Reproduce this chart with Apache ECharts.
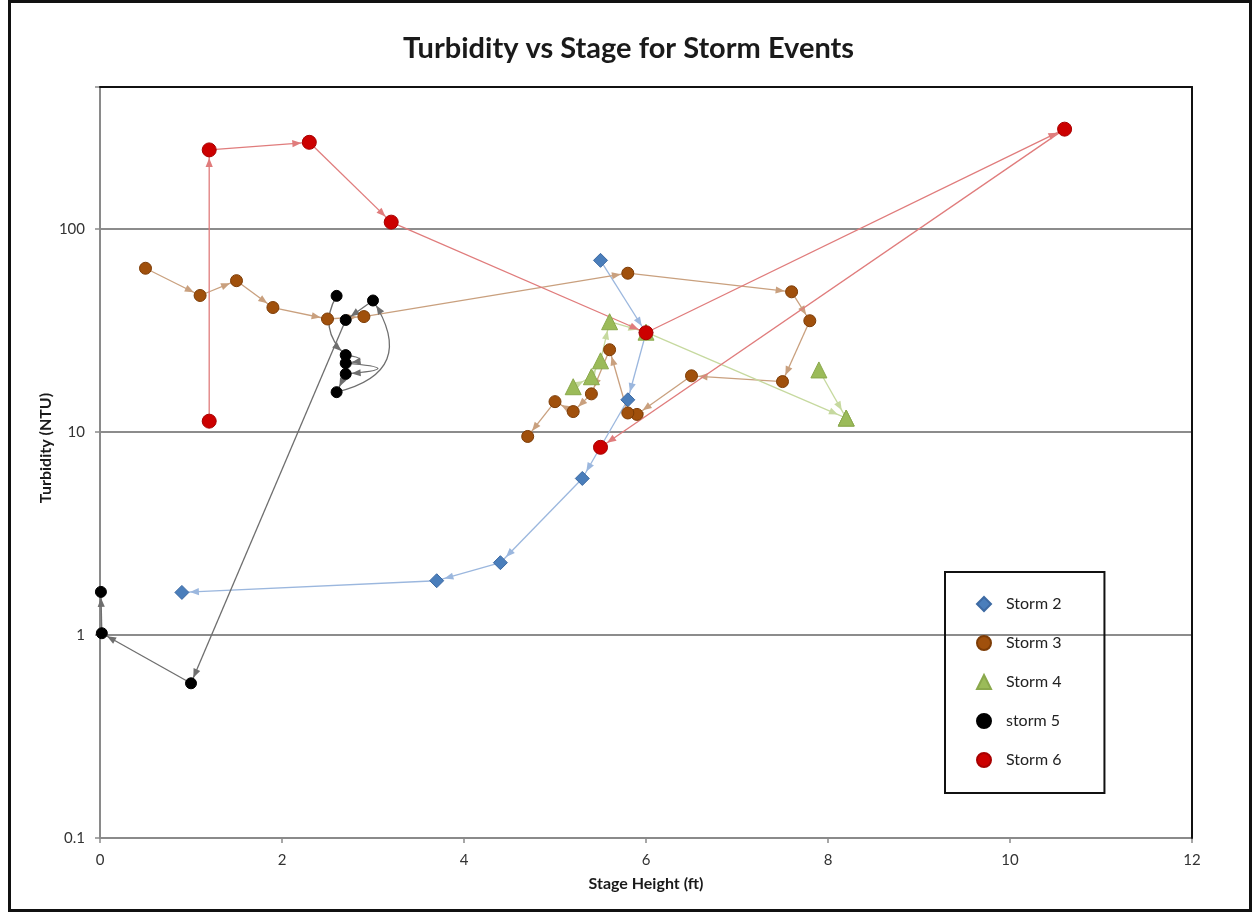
<!DOCTYPE html>
<html>
<head>
<meta charset="utf-8">
<title>Turbidity vs Stage for Storm Events</title>
<script src="https://cdn.jsdelivr.net/npm/echarts@6/dist/echarts.min.js"></script>
<style>
	html, body { margin: 0; padding: 0; background: #fff; }
	#chart { width: 1257px; height: 913px; }
</style>
</head>
<body>
<div id="chart"></div>
<script>
// stage height (ft) / turbidity (NTU), each storm in the order it was sampled
var storm2X = [5.5, 6.0, 5.8, 5.3, 4.4, 3.7, 0.9];
var storm2Y = [70, 30.8, 14.4, 5.9, 2.27, 1.85, 1.62];

var storm3X = [0.5, 1.1, 1.5, 1.9, 2.5, 2.9, 5.8, 7.6, 7.8, 7.5, 6.5, 5.9, 5.8, 5.6, 5.4, 5.2, 5.0, 4.7];
var storm3Y = [64, 47, 55.6, 41, 36, 37, 60.5, 49, 35.3, 17.7, 18.9, 12.2, 12.4, 25.4, 15.4, 12.6, 14.1, 9.5];

var storm4X = [5.2, 5.4, 5.5, 5.6, 6.0, 8.2];
var storm4Y = [16.7, 18.7, 22.4, 34.9, 31, 11.7];
var storm4bX = [7.9, 8.2];
var storm4bY = [20.2, 11.7];

var storm5X = [2.6, 2.7, 2.7, 2.7, 2.6, 3.0, 2.7, 1.0, 0.02, 0.01];
var storm5Y = [46.8, 23.9, 21.8, 19.3, 15.7, 44.4, 35.6, 0.578, 1.02, 1.63];

var storm6X = [1.2, 1.2, 2.3, 3.2, 6.0, 10.6, 5.5];
var storm6Y = [11.3, 245, 267, 108, 30.8, 310, 8.4];

var stormNames = ['Storm 2', 'Storm 3', 'Storm 4', 'storm 5', 'Storm 6'];
var yTickLabels = [0.1, 1, 10, 100];

function toPoints(xs, ys) {
	var pts = [];
	for (var i = 0; i < xs.length; i++) pts.push([xs[i], ys[i]]);
	return pts;
}

// consecutive samples -> [x1, y1, x2, y2]
function toSegments(xs, ys) {
	var segs = [];
	for (var i = 0; i < xs.length - 1; i++) segs.push([xs[i], ys[i], xs[i + 1], ys[i + 1]]);
	return segs;
}

// storm 5 loops around itself near 2.7 ft (same sense as echarts curveness)
var storm5Bends = [-0.4, 3.5, 6, 0, -0.7, 0, 0, 0, 0];

function markerSeries(name, pts, symbol, size, color, border) {
	return {
		name: name,
		type: 'scatter',
		data: pts,
		symbol: symbol,
		symbolSize: size,
		z: 3,
		itemStyle: { color: color, borderColor: border, borderWidth: 1, opacity: 1 },
		emphasis: { disabled: true }
	};
}

// a line from sample to sample with an arrow head stopping at the next marker
function pathSeries(name, segs, bends, lineColor, back) {
	return {
		name: name + ' path',
		type: 'custom',
		coordinateSystem: 'cartesian2d',
		silent: true,
		z: 1,
		data: segs,
		encode: { x: [0, 2], y: [1, 3] },
		renderItem: function (params, api) {
			var p1 = api.coord([api.value(0), api.value(1)]);
			var p2 = api.coord([api.value(2), api.value(3)]);
			var c = bends ? (bends[params.dataIndex] || 0) : 0;
			var cp = null, tx, ty;
			if (c) {
				cp = [(p1[0] + p2[0]) / 2 - (p1[1] - p2[1]) * c, (p1[1] + p2[1]) / 2 - (p2[0] - p1[0]) * c];
				tx = p2[0] - cp[0];
				ty = p2[1] - cp[1];
			} else {
				tx = p2[0] - p1[0];
				ty = p2[1] - p1[1];
			}
			var len = Math.sqrt(tx * tx + ty * ty) || 1;
			var ux = tx / len, uy = ty / len;
			var tip = [p2[0] - ux * back, p2[1] - uy * back];
			var bx = tip[0] - ux * 9, by = tip[1] - uy * 9;
			var hw = 3.6;
			var head = {
				type: 'polygon',
				shape: { points: [tip, [bx - uy * hw, by + ux * hw], [bx + uy * hw, by - ux * hw]] },
				style: { fill: lineColor }
			};
			var line;
			if (c) {
				line = {
					type: 'bezierCurve',
					shape: { x1: p1[0], y1: p1[1], x2: p2[0], y2: p2[1], cpx1: cp[0], cpy1: cp[1] },
					style: { stroke: lineColor, lineWidth: 1.3, fill: null }
				};
			} else {
				line = {
					type: 'line',
					shape: { x1: p1[0], y1: p1[1], x2: p2[0], y2: p2[1] },
					style: { stroke: lineColor, lineWidth: 1.3 }
				};
			}
			return { type: 'group', children: [line, head] };
		}
	};
}

var chart = echarts.init(document.getElementById('chart'));

var option = {
	backgroundColor: '#fff',
	animation: false,
	title: {
		text: 'Turbidity vs Stage for Storm Events',
		left: 'center',
		top: 29,
		textStyle: { fontFamily: 'Lato', fontSize: 29, fontWeight: 'bold', color: '#1a1a1a' }
	},
	legend: {
		orient: 'vertical',
		left: 945,
		top: 572,
		padding: [24, 43, 25, 31],
		itemGap: 23,
		itemWidth: 14,
		itemHeight: 14,
		borderColor: '#111',
		borderWidth: 2,
		selectedMode: false,
		data: stormNames,
		textStyle: { fontFamily: 'Lato', fontSize: 16, lineHeight: 16, color: '#222', padding: [0, 0, 0, 10] }
	},
	grid: { left: 100, right: 65, top: 87, bottom: 75, containLabel: false, outerBoundsMode: 'none' },
	xAxis: [{
		type: 'value',
		min: 0,
		max: 12,
		interval: 2,
		name: 'Stage Height (ft)',
		nameLocation: 'middle',
		nameGap: 38,
		nameTextStyle: { fontFamily: 'Lato', fontSize: 16, fontWeight: 'bold', color: '#1a1a1a' },
		axisLine: { onZero: false, lineStyle: { color: '#8a8a8a', width: 2 } },
		axisTick: { show: true, inside: false, length: 5, lineStyle: { color: '#8a8a8a', width: 1.5 } },
		axisLabel: { margin: 15, fontFamily: 'Lato', fontSize: 15, color: '#333' },
		splitLine: { show: false }
	}, {
		type: 'value',
		position: 'top',
		min: 0,
		max: 12,
		z: 5,
		axisLine: { show: true, onZero: false, lineStyle: { color: '#111', width: 2 } },
		axisTick: { show: false },
		axisLabel: { show: false },
		splitLine: { show: false }
	}],
	yAxis: [{
		type: 'log',
		logBase: 10,
		min: 0.1,
		max: 500,
		axisLine: { show: true, onZero: false, lineStyle: { color: '#8a8a8a', width: 2 } },
		axisTick: { show: true, length: 5, lineStyle: { color: '#8a8a8a', width: 1.5 } },
		axisLabel: {
			margin: 15,
			fontFamily: 'Lato',
			fontSize: 15,
			color: '#333',
			formatter: function (v) {
				for (var i = 0; i < yTickLabels.length; i++) {
					if (Math.abs(v / yTickLabels[i] - 1) < 1e-6) return String(yTickLabels[i]);
				}
				return '';
			}
		},
		splitLine: { show: true, lineStyle: { color: '#8c8c8c', width: 2 } }
	}, {
		type: 'value',
		position: 'right',
		min: 0,
		max: 1,
		z: 5,
		axisLine: { show: true, onZero: false, lineStyle: { color: '#111', width: 2 } },
		axisTick: { show: false },
		axisLabel: { show: false },
		splitLine: { show: false }
	}],
	series: [
		pathSeries('Storm 2', toSegments(storm2X, storm2Y), null, '#9bb7de', 8),
		pathSeries('Storm 3', toSegments(storm3X, storm3Y), null, '#c9a07e', 7),
		pathSeries('Storm 4', toSegments(storm4X, storm4Y).concat(toSegments(storm4bX, storm4bY)), null, '#c6d99f', 9),
		pathSeries('storm 5', toSegments(storm5X, storm5Y), storm5Bends, '#6e6e6e', 6),
		pathSeries('Storm 6', toSegments(storm6X, storm6Y), null, '#e07c7c', 8),
		markerSeries('Storm 2', toPoints(storm2X, storm2Y), 'diamond', 14, '#4a7ebb', '#3d6aa3'),
		markerSeries('Storm 3', toPoints(storm3X, storm3Y), 'circle', 12, '#a0500c', '#7d3c06'),
		markerSeries('Storm 4', toPoints(storm4X, storm4Y).concat(toPoints(storm4bX, storm4bY)), 'triangle', 16, '#9bbb59', '#8aa84c'),
		markerSeries('storm 5', toPoints(storm5X, storm5Y), 'circle', 11, '#000', '#000'),
		markerSeries('Storm 6', toPoints(storm6X, storm6Y), 'circle', 14, '#cc0000', '#a80000')
	],
	graphic: [{
		type: 'rect',
		silent: true,
		shape: { x: 9.5, y: 1.5, width: 1241, height: 909 },
		style: { fill: 'none', stroke: '#111', lineWidth: 3 }
	}, {
		// y axis title sits a little above the middle of the axis
		type: 'text',
		silent: true,
		x: 46,
		y: 448,
		rotation: Math.PI / 2,
		style: {
			text: 'Turbidity (NTU)',
			fontFamily: 'Lato',
			fontSize: 16,
			fontWeight: 'bold',
			fill: '#1a1a1a',
			align: 'center',
			verticalAlign: 'middle'
		}
	}]
};
chart.setOption(option);
</script>
</body>
</html>
